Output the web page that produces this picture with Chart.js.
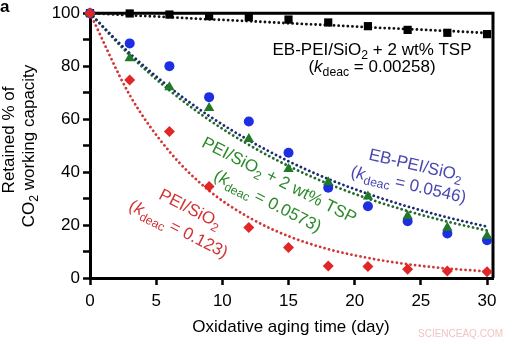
<!DOCTYPE html>
<html>
<head>
<meta charset="utf-8">
<script src="https://cdn.jsdelivr.net/npm/chart.js@4.4.1/dist/chart.umd.min.js"></script>
<style>
  html, body { margin: 0; padding: 0; background: #fff; }
  #wrap { width: 515px; height: 344px; position: relative; }
</style>
</head>
<body>
<div id="wrap"><canvas id="agingChart"></canvas></div>
<script>
// oxidative aging, days
const days = [0, 3, 6, 9, 12, 15, 18, 21, 24, 27, 30];

// measured retained capacity (%)
const ebPeiTsp = [100, 99.9, 99.5, 98.9, 98.5, 97.6, 96.5, 95.1, 93.7, 92.6, 92.1];
const ebPei = [100, 88.6, 80.0, 68.3, 59.1, 47.3, 34.1, 27.1, 21.4, 16.8, 14.3];
const peiTsp = [100, 83.0, 72.0, 64.2, 52.5, 41.2, 36.2, 30.8, 23.4, 19.0, 15.9];
const pei = [100, 74.8, 55.3, 34.6, 19.1, 11.5, 4.5, 4.3, 3.3, 2.6, 2.4];

// dotted fit curves at the same days
const fitEbPeiTsp = [100, 99.2, 98.5, 97.7, 97.0, 96.2, 95.5, 94.7, 94.0, 93.3, 92.5];
const fitEbPei = [100, 84.9, 72.1, 61.2, 52.0, 44.1, 37.4, 31.8, 27.0, 22.9, 19.4];
const fitPeiTsp = [100, 84.2, 70.9, 59.7, 50.3, 42.3, 35.6, 30.0, 25.3, 21.3, 17.9];
const fitPei = [100, 69.1, 47.8, 33.0, 22.9, 15.8, 10.9, 7.6, 5.2, 3.6, 2.5];

const xTicks = [0, 5, 10, 15, 20, 25, 30];
const yTicks = [0, 20, 40, 60, 80, 100];

const FONT = '"Liberation Sans", Arial, Helvetica, sans-serif';

function pts(vals) {
  return days.map((d, i) => ({ x: d, y: vals[i] }));
}

function markers(label, vals, style, color, radius, order) {
  return {
    label: label,
    data: pts(vals),
    showLine: false,
    pointStyle: style,
    pointRadius: radius,
    pointBackgroundColor: color,
    pointBorderWidth: 0,
    clip: false,
    order: order,
  };
}

function fitLine(vals, color) {
  return {
    data: pts(vals),
    showLine: true,
    pointRadius: 0,
    borderColor: color,
    borderWidth: 2.8,
    borderDash: [0.01, 4.6],
    borderCapStyle: "round",
    cubicInterpolationMode: "monotone",
    fill: false,
    order: 5,
  };
}

function partFont(p, size) {
  const s = p.sub ? size * 0.72 : size;
  return (p.it ? "italic " : "") + s + "px " + FONT;
}

function drawRich(ctx, parts, x, y, angle, color, align) {
  const size = 17;
  ctx.save();
  ctx.translate(x, y);
  ctx.rotate((angle * Math.PI) / 180);
  ctx.fillStyle = color;
  ctx.textBaseline = "middle";
  ctx.textAlign = "left";
  let w = 0;
  parts.forEach((p) => {
    ctx.font = partFont(p, size);
    w += ctx.measureText(p.t).width;
  });
  let cx = align === "center" ? -w / 2 : 0;
  parts.forEach((p) => {
    ctx.font = partFont(p, size);
    ctx.fillText(p.t, cx, p.sub ? size * 0.33 : 0);
    cx += ctx.measureText(p.t).width;
  });
  ctx.restore();
}

const sio2 = (pre, post) => [{ t: pre + "SiO" }, { t: "2", sub: true }, { t: post }];
const kdeac = (v) => [{ t: "(" }, { t: "k", it: true }, { t: "deac", sub: true }, { t: " = " + v + ")" }];

const textPlugin = {
  id: "texts",
  beforeDatasetsDraw(chart) {
    const { ctx, chartArea: a } = chart;
    ctx.save();
    ctx.strokeStyle = "#000";
    ctx.lineWidth = 3;
    ctx.beginPath();
    ctx.moveTo(a.left, a.top);
    ctx.lineTo(a.right, a.top);
    ctx.lineTo(a.right, a.bottom);
    ctx.stroke();
    ctx.restore();
  },
  afterDraw(chart) {
    const ctx = chart.ctx;
    // panel letter
    ctx.save();
    ctx.fillStyle = "#000";
    ctx.font = "bold 17px " + FONT;
    ctx.textBaseline = "alphabetic";
    ctx.fillText("a", 0, 12);
    ctx.restore();

    // axis titles
    drawRich(ctx, [{ t: "Retained % of" }], 9, 140, -90, "#000", "center");
    drawRich(ctx, [{ t: "CO" }, { t: "2", sub: true }, { t: " working capacity" }], 29.5, 146, -90, "#000", "center");
    drawRich(ctx, [{ t: "Oxidative aging time (day)" }], 291, 327, 0, "#000", "center");

    // series labels
    drawRich(ctx, sio2("EB-PEI/", " + 2 wt% TSP"), 372, 50, 0, "#000", "center");
    drawRich(ctx, kdeac("0.00258"), 372, 67, 0, "#000", "center");

    drawRich(ctx, sio2("EB-PEI/", ""), 369, 155, 13, "#4848b0", "left");
    drawRich(ctx, kdeac("0.0546"), 351, 172, 13, "#4848b0", "left");

    drawRich(ctx, sio2("PEI/", " + 2 wt% TSP"), 203, 142, 27, "#2a8a2a", "left");
    drawRich(ctx, kdeac("0.0573"), 215, 175, 27, "#2a8a2a", "left");

    drawRich(ctx, sio2("PEI/", ""), 160, 194, 27, "#d23434", "left");
    drawRich(ctx, kdeac("0.123"), 130, 205, 27, "#d23434", "left");

    // watermark
    ctx.save();
    ctx.fillStyle = "#f0c4c4";
    ctx.font = "10px " + FONT;
    ctx.textBaseline = "middle";
    ctx.fillText("SCIENCEAQ.COM", 418, 334);
    ctx.restore();
  },
};

new Chart(document.getElementById("agingChart"), {
  type: "scatter",
  data: {
    datasets: [
      markers("EB-PEI/SiO2 + 2 wt% TSP", ebPeiTsp, "rect", "#000", 5.8, 3),
      markers("EB-PEI/SiO2", ebPei, "circle", "#1d2fe0", 5, 2),
      markers("PEI/SiO2 + 2 wt% TSP", peiTsp, "triangle", "#1f7a28", 6, 1),
      markers("PEI/SiO2", pei, "rectRot", "#e02626", 5.5, 0),
      fitLine(fitEbPeiTsp, "#111"),
      fitLine(fitEbPei, "#1c2c70"),
      fitLine(fitPeiTsp, "#236a2c"),
      fitLine(fitPei, "#d43636"),
    ],
  },
  options: {
    responsive: true,
    maintainAspectRatio: false,
    devicePixelRatio: 1,
    animation: false,
    layout: { padding: { left: 0, right: 22, top: 12, bottom: 0 } },
    plugins: { legend: { display: false }, tooltip: { enabled: false } },
    scales: {
      x: {
        min: 0,
        max: 30.45,
        afterFit: (s) => { s.height = 66; },
        afterBuildTicks: (s) => { s.ticks = xTicks.map((v) => ({ value: v })); },
        ticks: { color: "#000", font: { family: FONT, size: 17 }, padding: 6, maxRotation: 0 },
        grid: { drawOnChartArea: false, tickLength: 7, tickWidth: 2.5, tickColor: "#000" },
        border: { display: true, color: "#000", width: 3 },
      },
      y: {
        min: 0,
        max: 100,
        afterFit: (s) => { s.width = 90; },
        afterBuildTicks: (s) => {
          const t = [];
          for (let v = 0; v <= 100; v += 10) t.push({ value: v });
          s.ticks = t;
        },
        ticks: {
          color: "#000",
          font: { family: FONT, size: 17 },
          padding: 3,
          callback: (v) => (yTicks.includes(v) ? v : ""),
        },
        grid: { drawOnChartArea: false, tickLength: 7, tickWidth: 2.5, tickColor: "#000" },
        border: { display: true, color: "#000", width: 3 },
      },
    },
  },
  plugins: [textPlugin],
});
</script>
</body>
</html>
